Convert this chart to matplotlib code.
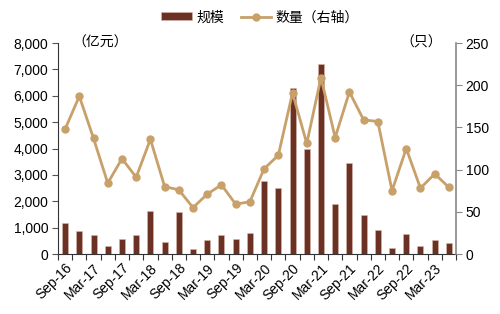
import matplotlib
matplotlib.use("Agg")
import matplotlib.pyplot as plt
import numpy as np
from matplotlib.ticker import FuncFormatter, MultipleLocator

quarters = ["Sep-16", "Dec-16", "Mar-17", "Jun-17", "Sep-17", "Dec-17", "Mar-18", "Jun-18",
            "Sep-18", "Dec-18", "Mar-19", "Jun-19", "Sep-19", "Dec-19", "Mar-20", "Jun-20",
            "Sep-20", "Dec-20", "Mar-21", "Jun-21", "Sep-21", "Dec-21", "Mar-22", "Jun-22",
            "Sep-22", "Dec-22", "Mar-23", "Jun-23"]
scale = [1190, 870, 730, 315, 570, 710, 1645, 440, 1605, 190, 520, 735, 555, 795,
         2770, 2495, 6310, 4000, 7200, 1910, 3445, 1495, 925, 215, 760, 305, 530, 420]
count = [148, 187, 137, 84, 113, 91, 136, 80, 76, 55, 71, 82, 59, 62,
         101, 117, 191, 131, 209, 138, 192, 159, 157, 75, 125, 78, 95, 79]

plt.rcParams['font.family'] = ['Liberation Sans', 'Noto Sans CJK SC']
cjk = ['Noto Sans CJK SC', 'Liberation Sans']
bar_color = '#6B3123'
line_color = '#C8A06A'
fs = 10

fig = plt.figure(figsize=(5, 3.14), dpi=100)
ax = fig.add_axes([0.116, 0.191, 0.796, 0.672])
x = np.arange(len(quarters))
ax.bar(x, scale, width=0.42, color=bar_color, edgecolor='#D9B8AE', linewidth=0.4, label='规模', zorder=2)
ax.set_ylim(0, 8000)
ax.set_xlim(-0.5, len(quarters) - 0.5)
ax.yaxis.set_major_locator(MultipleLocator(1000))
ax.yaxis.set_major_formatter(FuncFormatter(lambda v, p: f"{int(v):,}"))
ax.set_xticks(x[::2])
ax.set_xticklabels(quarters[::2], rotation=45, ha='right', rotation_mode='anchor')
ax.set_xticks(np.arange(-0.5, len(quarters), 1), minor=True)
ax.tick_params(axis='x', which='major', length=0, labelsize=fs, pad=5)
ax.tick_params(axis='x', which='minor', length=4, width=0.8, color='#333333', direction='out')
ax.tick_params(axis='y', length=4, width=0.8, color='#555555', labelsize=fs, pad=3)

ax2 = ax.twinx()
ax2.plot(x, count, color=line_color, marker='o', markersize=5, linewidth=2, label='数量（右轴）', zorder=3)
ax2.set_ylim(0, 250)
ax2.yaxis.set_major_locator(MultipleLocator(50))
ax2.tick_params(axis='y', length=4, width=0.8, color='#888888', labelsize=fs, pad=3)

for a in (ax, ax2):
    a.spines['top'].set_visible(False)
ax.spines['right'].set_visible(False)
ax.spines['left'].set_color('#333333')
ax.spines['bottom'].set_color('#333333')
ax2.spines['left'].set_visible(False)
ax2.spines['bottom'].set_visible(False)
ax2.spines['right'].set_color('#888888')
ax2.spines['right'].set_linewidth(1.2)

ax.text(0.035, 1.0, '（亿元）', transform=ax.transAxes, fontsize=fs, va='center', ha='left', family=cjk)
ax2.text(0.86, 1.0, '（只）', transform=ax.transAxes, fontsize=fs, va='center', ha='left', family=cjk)

h1, l1 = ax.get_legend_handles_labels()
h2, l2 = ax2.get_legend_handles_labels()
fig.legend(h1 + h2, l1 + l2, loc='center', bbox_to_anchor=(0.52, 0.945), ncol=2, frameon=False,
           prop={'family': cjk, 'size': fs}, handlelength=2.2, handleheight=0.5,
           columnspacing=1.2, handletextpad=0.3)

fig.savefig('out.png', dpi=100)
